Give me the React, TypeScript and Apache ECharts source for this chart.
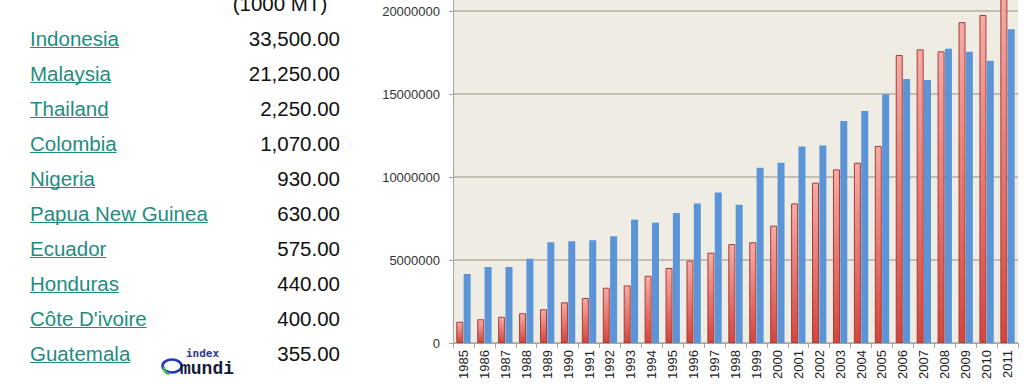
import React, { useEffect, useRef } from "react";
import * as echarts from "echarts";

const years = [
  "1985", "1986", "1987", "1988", "1989", "1990", "1991", "1992", "1993",
  "1994", "1995", "1996", "1997", "1998", "1999", "2000", "2001", "2002",
  "2003", "2004", "2005", "2006", "2007", "2008", "2009", "2010", "2011",
];
const redSeries = [
  1280000, 1430000, 1580000, 1790000, 2030000, 2450000, 2710000, 3330000, 3470000,
  4050000, 4520000, 4960000, 5440000, 5960000, 6070000, 7070000, 8410000, 9660000,
  10460000, 10860000, 11870000, 17350000, 17690000, 17570000, 19330000, 19760000, 21500000,
];
const blueSeries = [
  4160000, 4580000, 4580000, 5080000, 6070000, 6130000, 6190000, 6430000, 7430000,
  7250000, 7830000, 8410000, 9070000, 8330000, 10560000, 10860000, 11840000, 11900000,
  13370000, 13980000, 14980000, 15900000, 15840000, 17730000, 17550000, 17000000, 18900000,
];
const yTicks = { min: 0, max: 25000000, interval: 5000000 };

const tableHeader = "(1000 MT)";
const countries = [
  "Indonesia", "Malaysia", "Thailand", "Colombia", "Nigeria",
  "Papua New Guinea", "Ecuador", "Honduras", "Côte D'ivoire", "Guatemala",
];
const amounts = [
  "33,500.00", "21,250.00", "2,250.00", "1,070.00", "930.00",
  "630.00", "575.00", "440.00", "400.00", "355.00",
];

const TABLE_FONT = "20.5px 'Liberation Sans', Arial, sans-serif";
const LINK = "#1f8c80";
const OFF = 72; // chart canvas extends above the visible page

function measure(text: string, font: string): number {
  const c = document.createElement("canvas");
  const ctx = c.getContext("2d");
  if (!ctx) return text.length * 10;
  ctx.font = font;
  return ctx.measureText(text).width;
}

export default function App() {
  const ref = useRef<HTMLDivElement>(null);
  useEffect(() => {
    if (!ref.current) return;
    const chart = echarts.init(ref.current, null, { renderer: "svg" });

    const graphics: any[] = [];
    graphics.push({
      type: "text",
      x: 280,
      y: 14 + OFF,
      style: { text: tableHeader, font: TABLE_FONT, fill: "#111", textAlign: "center", textVerticalAlign: "bottom" },
    });
    countries.forEach((name, i) => {
      const base = 45 + 35 * i + OFF;
      const w = measure(name, TABLE_FONT);
      graphics.push({
        type: "text",
        x: 30,
        y: base + 4,
        style: { text: name, font: TABLE_FONT, fill: LINK, textAlign: "left", textVerticalAlign: "bottom" },
      });
      graphics.push({
        type: "line",
        shape: { x1: 30, y1: base + 2.5, x2: 30 + w, y2: base + 2.5 },
        style: { stroke: LINK, lineWidth: 1 },
      });
      graphics.push({
        type: "text",
        x: 340,
        y: base + 4,
        style: { text: amounts[i], font: TABLE_FONT, fill: "#111", textAlign: "right", textVerticalAlign: "bottom" },
      });
    });
    // index mundi logo
    graphics.push({
      type: "ellipse",
      shape: { cx: 172, cy: 366 + OFF, rx: 9.5, ry: 6.5 },
      style: { fill: "none", stroke: "#2236c2", lineWidth: 2.5 },
    });
    graphics.push({
      type: "arc",
      shape: { cx: 170, cy: 368 + OFF, r: 6, startAngle: Math.PI * 0.55, endAngle: Math.PI * 1.05 },
      style: { fill: "none", stroke: "#3cbf48", lineWidth: 2.5 },
    });
    graphics.push({
      type: "text",
      x: 186,
      y: 359 + OFF,
      style: { text: "index", font: "bold 11px 'DejaVu Sans Mono', monospace", fill: "#2b3a8c", textAlign: "left", textVerticalAlign: "bottom" },
    });
    graphics.push({
      type: "text",
      x: 180,
      y: 378 + OFF,
      style: { text: "mundi", font: "bold 18px 'Liberation Mono', monospace", fill: "#141a3a", textAlign: "left", textVerticalAlign: "bottom" },
    });

    chart.setOption({
      animation: false,
      backgroundColor: "#ffffff",
      grid: {
        left: 453,
        right: 6,
        top: OFF - 72,
        bottom: 41,
        show: true,
        backgroundColor: "#efede3",
        borderWidth: 0,
        containLabel: false,
        outerBoundsMode: "none",
      },
      xAxis: {
        type: "category",
        data: years,
        axisLine: { show: true, lineStyle: { color: "#a9a69c", width: 1 } },
        axisTick: { show: true, length: 5, lineStyle: { color: "#a9a69c" } },
        axisLabel: {
          rotate: 90,
          interval: 0,
          margin: 7,
          color: "#222",
          fontSize: 13,
          fontFamily: "'Liberation Sans', Arial, sans-serif",
        },
      },
      yAxis: {
        type: "value",
        min: yTicks.min,
        max: yTicks.max,
        interval: yTicks.interval,
        axisLine: { show: true, lineStyle: { color: "#a9a69c", width: 1 } },
        axisTick: { show: true, length: 4, lineStyle: { color: "#a9a69c" } },
        splitLine: { show: true, lineStyle: { color: "#b3aea3", width: 1.5 } },
        axisLabel: {
          margin: 13,
          color: "#333",
          fontSize: 13,
          showMaxLabel: false,
          fontFamily: "'Liberation Sans', Arial, sans-serif",
          formatter: (v: number) => String(v),
        },
      },
      series: [
        {
          type: "bar",
          data: redSeries,
          barWidth: 7,
          barGap: "5%",
          itemStyle: {
            color: new echarts.graphic.LinearGradient(0, 0, 0, 1, [
              { offset: 0, color: "#f6aca6" },
              { offset: 1, color: "#d5453e" },
            ]),
            borderColor: "#a33d39",
            borderWidth: 1,
          },
        },
        {
          type: "bar",
          data: blueSeries,
          barWidth: 7,
          itemStyle: { color: "#5b95d7" },
        },
      ],
      graphic: graphics,
    });
    return () => chart.dispose();
  }, []);
  return (
    <div
      ref={ref}
      style={{ position: "fixed", left: 0, top: -OFF, width: 1024, height: 384 + OFF, background: "#fff" }}
    />
  );
}
